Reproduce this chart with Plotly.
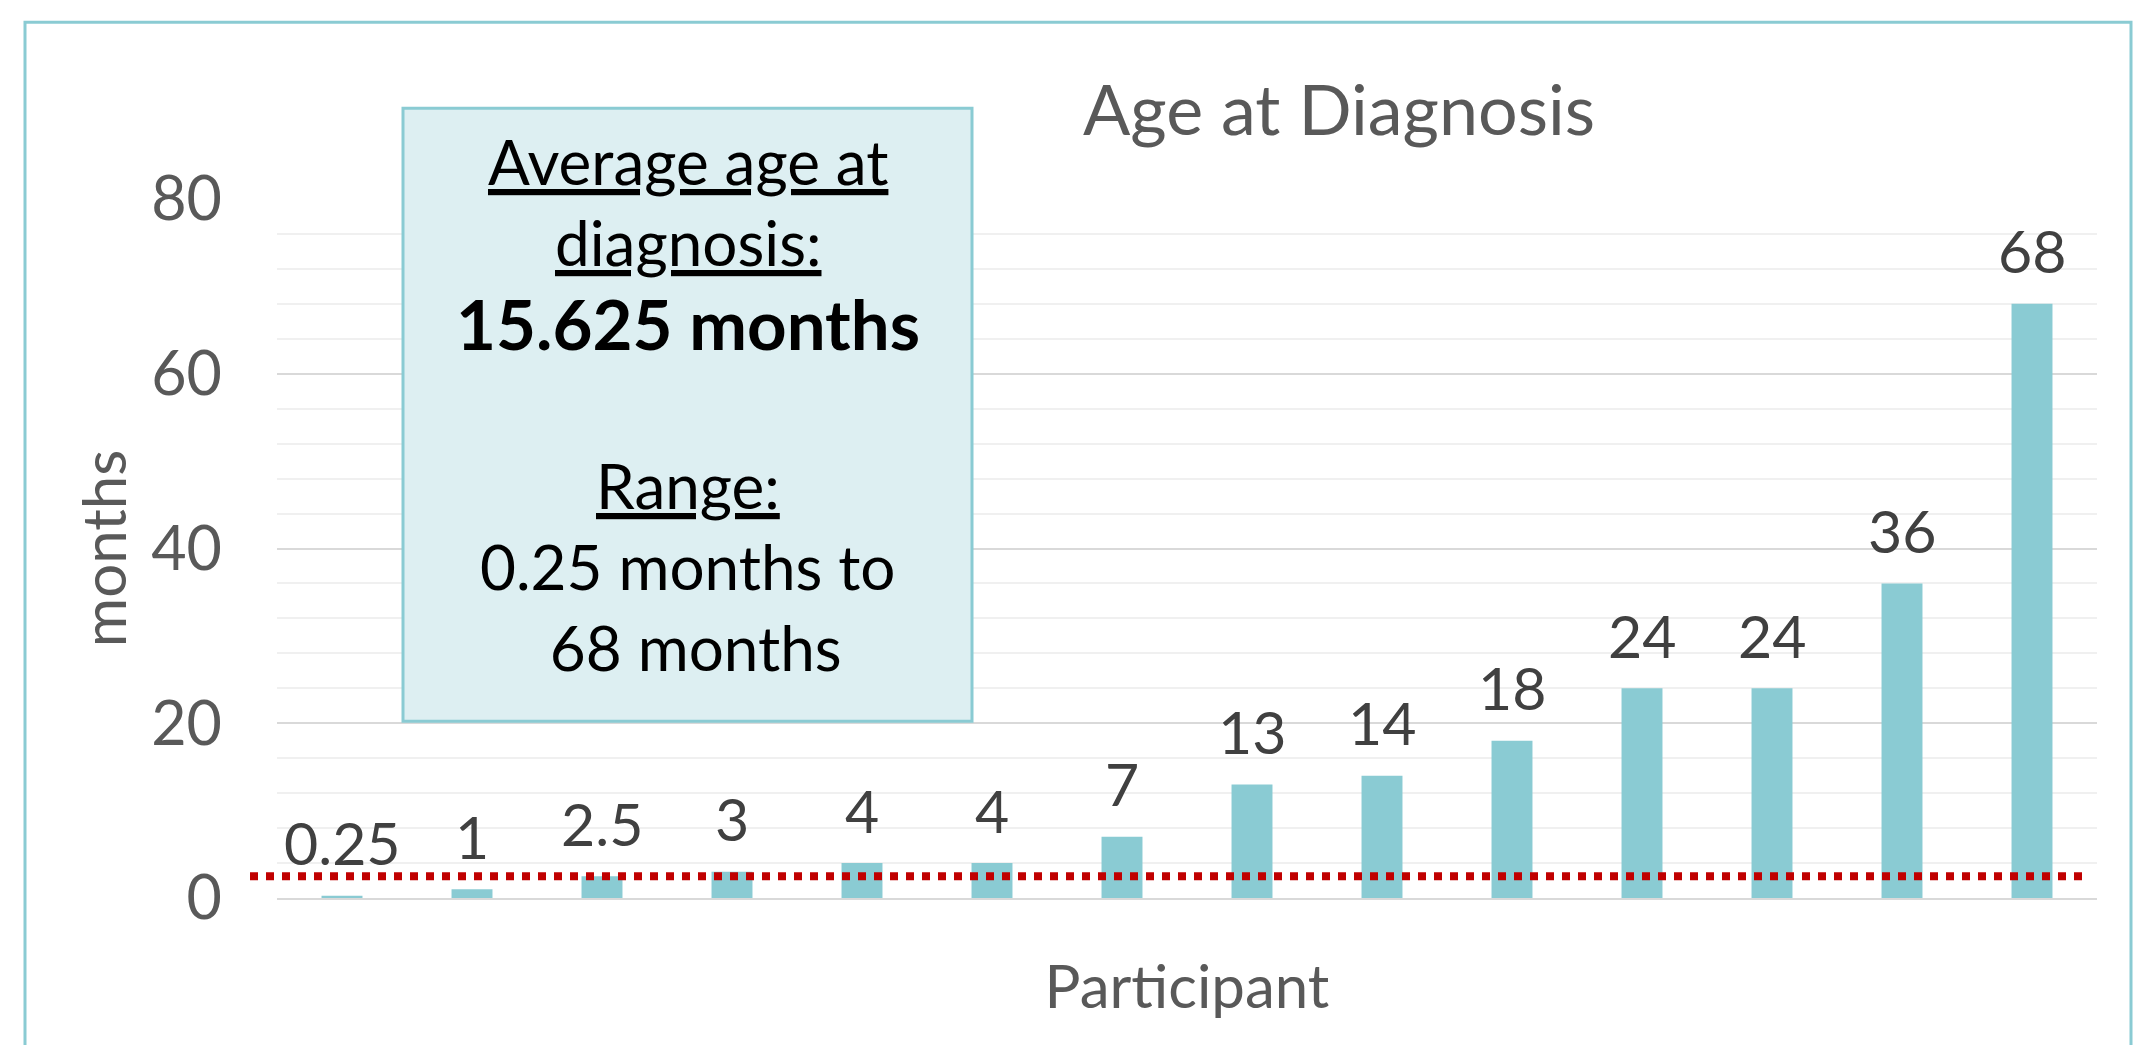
import plotly.graph_objects as go

# ---- data ----
participants = [f"P{i}" for i in range(1, 15)]
age_months = [0.25, 1, 2.5, 3, 4, 4, 7, 13, 14, 18, 24, 24, 36, 68]
reference_line = 2.5
y_ticks = [0, 20, 40, 60, 80]
box_lines = [
    "<u>Average age at</u>",
    "<u>diagnosis:</u>",
    "<b>15.625 months</b>",
    "",
    "<u>Range:</u>",
    "0.25 months to",
    " 68 months",
]
title_text = "Age at Diagnosis"
x_title = "Participant"
y_title = "months"

# ---- layout geometry (pixels of the 2149x1045 page) ----
W, H = 2149, 1045
PL, PR, PT, PB = 277, 2097, 198.7, 897.7
pw, ph = PR - PL, PB - PT

def px_x(x):
    return (x - PL) / pw

def px_y(y):
    return (PB - y) / ph

FONT = "Lato"
TEAL = "#8ACBD3"

fig = go.Figure()
fig.add_trace(go.Bar(
    x=participants, y=age_months,
    marker=dict(color=TEAL, line=dict(width=0)),
    hoverinfo="skip",
))

annotations = []
# data labels
for p, v in zip(participants, age_months):
    annotations.append(dict(
        x=p, y=v, xref="x", yref="y", text=f"{v:g}", showarrow=False,
        yanchor="middle", yshift=53,
        font=dict(family=FONT, size=59, color="#404040"),
    ))

# text box lines
box_cx = px_x((403 + 972) / 2)
line_y0 = 161
pitch = 81
for i, t in enumerate(box_lines):
    if not t:
        continue
    size = 69 if t.startswith("<b>") else 62
    annotations.append(dict(
        x=box_cx, y=px_y(line_y0 + i * pitch), xref="paper", yref="paper",
        text=t, showarrow=False, xanchor="center", yanchor="middle",
        font=dict(family=FONT, size=size, color="#000000"),
    ))

shapes = [
    # outer frame
    dict(type="rect", xref="paper", yref="paper",
         x0=px_x(25), x1=px_x(2131), y0=px_y(1070), y1=px_y(22),
         line=dict(color=TEAL, width=3), fillcolor="rgba(0,0,0,0)", layer="above"),
    # info box
    dict(type="rect", xref="paper", yref="paper",
         x0=px_x(403), x1=px_x(972), y0=px_y(721), y1=px_y(108),
         line=dict(color=TEAL, width=3), fillcolor="#DDEFF2", layer="above"),
    # reference dotted line
    dict(type="line", xref="paper", yref="y",
         x0=px_x(250), x1=px_x(2085), y0=reference_line, y1=reference_line,
         line=dict(color="#C00000", width=8, dash="dot"), layer="above"),
]

fig.update_layout(
    width=W, height=H,
    margin=dict(l=PL, r=W - PR, t=PT, b=H - PB, pad=0, autoexpand=False),
    paper_bgcolor="white", plot_bgcolor="white",
    bargap=0.685,
    showlegend=False,
    title=dict(text=title_text, x=1339 / W, xanchor="center", xref="container",
               y=1 - 110 / H, yanchor="middle", yref="container", automargin=False,
               font=dict(family=FONT, size=70, color="#595959")),
    font=dict(family=FONT, color="#595959"),
    annotations=annotations,
    shapes=shapes,
)
fig.update_xaxes(
    type="category", showticklabels=False, showgrid=False, zeroline=False,
    showline=True, linecolor="#D9D9D9", linewidth=2, ticks="", automargin=False,
    title=dict(text=x_title, standoff=67, font=dict(family=FONT, size=60, color="#595959")),
)
fig.update_yaxes(
    range=[0, 80], tickvals=y_ticks, showgrid=True, gridcolor="#D9D9D9", gridwidth=2,
    zeroline=False, showline=False, ticks="", ticklabelstandoff=54, automargin=False,
    tickfont=dict(family=FONT, size=61, color="#595959"),
    minor=dict(dtick=4, showgrid=True, gridcolor="#F0F0F0", gridwidth=2),
    title=dict(text=y_title, standoff=5, font=dict(family=FONT, size=60, color="#595959")),
)

fig.write_html(
    "out.html",
    config={"displayModeBar": False},
    post_script=(
        "document.body.style.margin='0';document.body.style.overflow='hidden';"
        "var s=document.createElement('style');"
        "s.textContent='text, tspan{text-decoration-skip-ink:none;text-decoration-thickness:3px;}';"
        "document.head.appendChild(s);"
    ),
)
